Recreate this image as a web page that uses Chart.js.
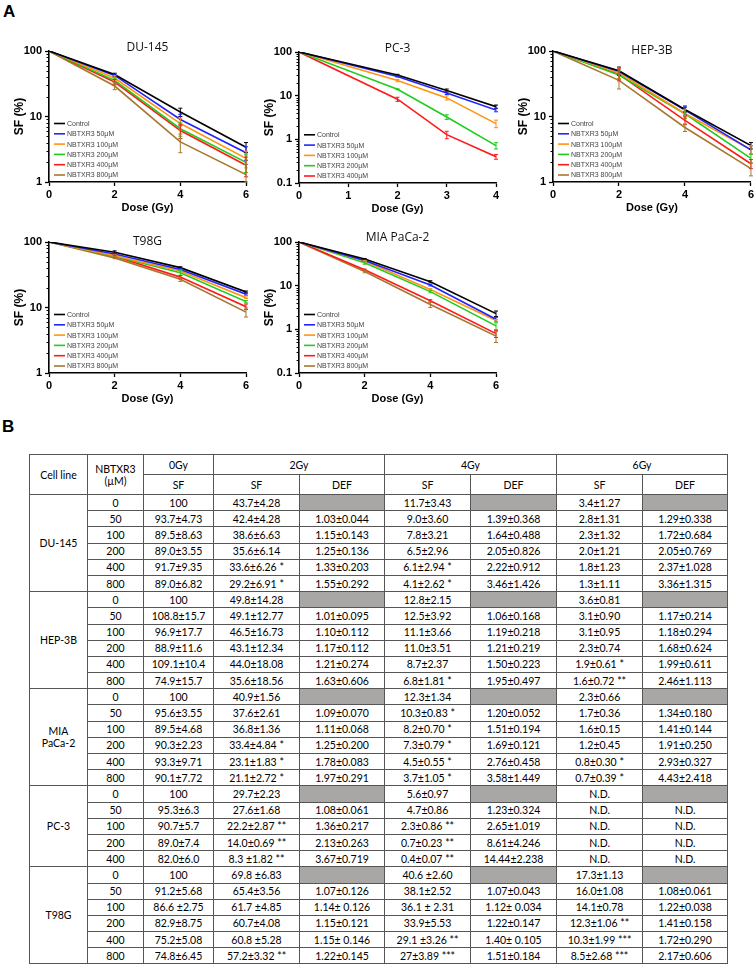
<!DOCTYPE html>
<html><head><meta charset="utf-8">
<script src="https://cdn.jsdelivr.net/npm/chart.js@4.4.1/dist/chart.umd.min.js"></script>
<style>
body{margin:0;width:756px;height:965px;background:#fff;position:relative;overflow:hidden;font-family:"Liberation Sans",Arial,sans-serif}
.lbl{position:absolute;font:bold 17px "Liberation Sans",Arial,sans-serif;line-height:17px;color:#000}
canvas{position:absolute}
table{position:absolute;left:29px;top:454px;border-collapse:collapse;table-layout:fixed;width:698px;font:10.5px Lato,"Open Sans",sans-serif;color:#000;border:1.5px solid #222}
td{border:1px solid #555;text-align:center;padding:0;white-space:nowrap;line-height:12px}
tr.h td{height:19px}
tr.d td{height:15.2px}
td.g{background:#a9a6a6}
td.grp{border-top:1.5px solid #222}
</style>
</head><body>
<div class="lbl" style="left:3px;top:3px">A</div>
<div class="lbl" style="left:2px;top:418px">B</div>
<canvas id="c1" width="252" height="190" style="left:0;top:30px"></canvas>
<canvas id="c2" width="252" height="190" style="left:250px;top:31px"></canvas>
<canvas id="c3" width="252" height="190" style="left:504px;top:30px"></canvas>
<canvas id="c4" width="252" height="190" style="left:0;top:221px"></canvas>
<canvas id="c5" width="252" height="190" style="left:250px;top:221px"></canvas>
<table id="tbl"></table>
<script>
// ---------- chart data ----------
const DOSE = [0, 2, 4, 6];
const DOSE_PC3 = [0, 2, 3, 4];
const LABELS6 = ['Control','NBTXR3 50µM','NBTXR3 100µM','NBTXR3 200µM','NBTXR3 400µM','NBTXR3 800µM'];
const LABELS5 = ['Control','NBTXR3 50µM','NBTXR3 100µM','NBTXR3 200µM','NBTXR3 400µM'];
const COLORS = ['#000000','#2323ff','#ff9414','#20cc20','#ff1a1a','#a8772d'];

const DU145_SF  = [[100,43.7,11.7,3.4],[100,42.4,9.0,2.8],[100,38.6,7.8,2.3],[100,35.6,6.5,2.0],[100,33.6,6.1,1.8],[100,29.2,4.1,1.3]];
const DU145_ERR = [[0,2.1,1.7,0.6],[0,2.1,1.8,0.65],[0,3.3,1.6,0.66],[0,3.1,1.5,0.6],[0,3.1,1.5,0.6],[0,3.5,1.3,0.55]];

const PC3_SF  = [[100,29.7,13.2,5.6],[100,27.6,11.5,4.7],[100,22.2,8.9,2.3],[100,14.0,3.25,0.72],[100,8.3,1.28,0.4]];
const PC3_ERR = [[0,1.1,1.0,0.5],[0,0.8,0.9,0.43],[0,1.4,1.0,0.45],[0,0.35,0.4,0.12],[0,0.9,0.25,0.05]];

const HEP3B_SF  = [[100,49.8,12.8,3.6],[100,49.1,12.5,3.1],[100,46.5,11.1,3.1],[100,43.1,11.0,2.3],[100,44.0,8.7,1.9],[100,35.6,6.8,1.6]];
const HEP3B_ERR = [[0,7.1,1.1,0.4],[0,6.4,2.0,0.45],[0,8.4,1.8,0.48],[0,6.2,1.8,0.37],[0,9.0,1.2,0.3],[0,9.3,0.9,0.36]];

const T98G_SF  = [[100,69.8,40.6,17.3],[100,65.4,38.1,16.0],[100,61.7,36.1,14.1],[100,60.7,33.9,12.3],[100,60.8,29.1,10.3],[100,57.2,27,8.5]];
const T98G_ERR = [[0,3.4,1.3,0.56],[0,1.8,1.26,0.54],[0,2.4,1.16,0.39],[0,2.0,2.8,0.53],[0,2.6,1.6,1.0],[0,1.66,1.95,1.34]];

const MIA_SF  = [[100,40.9,12.3,2.3],[100,37.6,10.3,1.7],[100,36.8,8.2,1.6],[100,33.4,7.3,1.2],[100,23.1,4.5,0.8],[100,21.1,3.7,0.7]];
const MIA_ERR = [[0,0.8,0.67,0.33],[0,1.3,0.42,0.18],[0,0.68,0.35,0.08],[0,2.4,0.4,0.22],[0,0.9,0.28,0.15],[0,1.36,0.52,0.2]];

const YTICKS_1 = [1, 10, 100];
const YTICKS_01 = [0.1, 1, 10, 100];

// ---------- table data ----------
const TABLE_HEAD1 = ['Cell line','NBTXR3<br>(µM)','0Gy','2Gy','4Gy','6Gy'];
const TABLE_HEAD2 = ['SF','SF','DEF','SF','DEF','SF','DEF'];
const CONC6 = ['0','50','100','200','400','800'];
const CONC5 = ['0','50','100','200','400'];
const T_DU145 = [
 ['100','43.7±4.28',null,'11.7±3.43',null,'3.4±1.27',null],
 ['93.7±4.73','42.4±4.28','1.03±0.044','9.0±3.60','1.39±0.368','2.8±1.31','1.29±0.338'],
 ['89.5±8.63','38.6±6.63','1.15±0.143','7.8±3.21','1.64±0.488','2.3±1.32','1.72±0.684'],
 ['89.0±3.55','35.6±6.14','1.25±0.136','6.5±2.96','2.05±0.826','2.0±1.21','2.05±0.769'],
 ['91.7±9.35','33.6±6.26 *','1.33±0.203','6.1±2.94 *','2.22±0.912','1.8±1.23','2.37±1.028'],
 ['89.0±6.82','29.2±6.91 *','1.55±0.292','4.1±2.62 *','3.46±1.426','1.3±1.11','3.36±1.315']];
const T_HEP3B = [
 ['100','49.8±14.28',null,'12.8±2.15',null,'3.6±0.81',null],
 ['108.8±15.7','49.1±12.77','1.01±0.095','12.5±3.92','1.06±0.168','3.1±0.90','1.17±0.214'],
 ['96.9±17.7','46.5±16.73','1.10±0.112','11.1±3.66','1.19±0.218','3.1±0.95','1.18±0.294'],
 ['88.9±11.6','43.1±12.34','1.17±0.112','11.0±3.51','1.21±0.219','2.3±0.74','1.68±0.624'],
 ['109.1±10.4','44.0±18.08','1.21±0.274','8.7±2.37','1.50±0.223','1.9±0.61 *','1.99±0.611'],
 ['74.9±15.7','35.6±18.56','1.63±0.606','6.8±1.81 *','1.95±0.497','1.6±0.72 **','2.46±1.113']];
const T_MIA = [
 ['100','40.9±1.56',null,'12.3±1.34',null,'2.3±0.66',null],
 ['95.6±3.55','37.6±2.61','1.09±0.070','10.3±0.83 *','1.20±0.052','1.7±0.36','1.34±0.180'],
 ['89.5±4.68','36.8±1.36','1.11±0.068','8.2±0.70 *','1.51±0.194','1.6±0.15','1.41±0.144'],
 ['90.3±2.23','33.4±4.84 *','1.25±0.200','7.3±0.79 *','1.69±0.121','1.2±0.45','1.91±0.250'],
 ['93.3±9.71','23.1±1.83 *','1.78±0.083','4.5±0.55 *','2.76±0.458','0.8±0.30 *','2.93±0.327'],
 ['90.1±7.72','21.1±2.72 *','1.97±0.291','3.7±1.05 *','3.58±1.449','0.7±0.39 *','4.43±2.418']];
const T_PC3 = [
 ['100','29.7±2.23',null,'5.6±0.97',null,'N.D.',null],
 ['95.3±6.3','27.6±1.68','1.08±0.061','4.7±0.86','1.23±0.324','N.D.','N.D.'],
 ['90.7±5.7','22.2±2.87 **','1.36±0.217','2.3±0.86 **','2.65±1.019','N.D.','N.D.'],
 ['89.0±7.4','14.0±0.69 **','2.13±0.263','0.7±0.23 **','8.61±4.246','N.D.','N.D.'],
 ['82.0±6.0','8.3 ±1.82 **','3.67±0.719','0.4±0.07 **','14.44±2.238','N.D.','N.D.']];
const T_T98G = [
 ['100','69.8 ±6.83',null,'40.6 ±2.60',null,'17.3±1.13',null],
 ['91.2±5.68','65.4±3.56','1.07±0.126','38.1±2.52','1.07±0.043','16.0±1.08','1.08±0.061'],
 ['86.6 ±2.75','61.7 ±4.85','1.14± 0.126','36.1 ± 2.31','1.12± 0.034','14.1±0.78','1.22±0.038'],
 ['82.9±8.75','60.7±4.08','1.15±0.121','33.9±5.53','1.22±0.147','12.3±1.06 **','1.41±0.158'],
 ['75.2±5.08','60.8 ±5.28','1.15± 0.146','29.1 ±3.26 **','1.40± 0.105','10.3±1.99 ***','1.72±0.290'],
 ['74.8±6.45','57.2±3.32 **','1.22±0.145','27±3.89 ***','1.51±0.184','8.5±2.68 ***','2.17±0.606']];
const TABLE_GROUPS = [
 {name:'DU-145', conc:CONC6, rows:T_DU145},
 {name:'HEP-3B', conc:CONC6, rows:T_HEP3B},
 {name:'MIA<br>PaCa-2', conc:CONC6, rows:T_MIA},
 {name:'PC-3', conc:CONC5, rows:T_PC3},
 {name:'T98G', conc:CONC6, rows:T_T98G}];
const COL_W = [58,56,70,86,85,86,86,86,85];

// ---------- build table ----------
(function(){
  let h = '<colgroup>' + COL_W.map(w=>`<col style="width:${w}px">`).join('') + '</colgroup>';
  h += `<tr class="h"><td rowspan="2">${TABLE_HEAD1[0]}</td><td rowspan="2">${TABLE_HEAD1[1]}</td><td>${TABLE_HEAD1[2]}</td><td colspan="2">${TABLE_HEAD1[3]}</td><td colspan="2">${TABLE_HEAD1[4]}</td><td colspan="2">${TABLE_HEAD1[5]}</td></tr>`;
  h += '<tr class="h">' + TABLE_HEAD2.map(t=>`<td>${t}</td>`).join('') + '</tr>';
  TABLE_GROUPS.forEach(g=>{
    g.rows.forEach((r,i)=>{
      const cls = i===0 ? ' grp' : '';
      h += '<tr class="d">';
      if(i===0) h += `<td class="grp" rowspan="${g.rows.length}">${g.name}</td>`;
      h += `<td class="${cls}">${g.conc[i]}</td>`;
      r.forEach(c=>{ h += c===null ? `<td class="g${cls}"></td>` : `<td class="${cls}">${c}</td>`; });
      h += '</tr>';
    });
  });
  document.getElementById('tbl').innerHTML = h;
})();

// ---------- charts ----------
const deco = {
  id:'deco',
  afterDatasetsDraw(chart){
    const ctx = chart.ctx, y = chart.scales.y, x = chart.scales.x;
    chart.data.datasets.forEach(ds=>{
      ctx.save(); ctx.strokeStyle = ds.borderColor; ctx.lineWidth = 1;
      ds.data.forEach((p,j)=>{
        const e = ds.err[j]; if(!e) return;
        const px = x.getPixelForValue(p.x);
        const lo = Math.max(p.y - e, y.min), hi = p.y + e;
        const y1 = y.getPixelForValue(lo), y2 = y.getPixelForValue(hi);
        ctx.beginPath();
        ctx.moveTo(px, y1); ctx.lineTo(px, y2);
        ctx.moveTo(px-2, y1); ctx.lineTo(px+2, y1);
        ctx.moveTo(px-2, y2); ctx.lineTo(px+2, y2);
        ctx.stroke();
      });
      ctx.restore();
    });
  },
  afterDraw(chart, args, opts){
    const ctx = chart.ctx, a = chart.chartArea, y = chart.scales.y;
    ctx.save();
    // minor ticks on log axis
    ctx.strokeStyle = '#000'; ctx.lineWidth = 1;
    for(let d = y.min; d < y.max; d *= 10){
      for(let k = 2; k <= 9; k++){
        const py = Math.round(y.getPixelForValue(k*d)) + 0.5;
        ctx.beginPath(); ctx.moveTo(a.left-2.5, py); ctx.lineTo(a.left, py); ctx.stroke();
      }
    }
    // chart title
    ctx.fillStyle = '#111';
    ctx.font = '12px "Open Sans", sans-serif';
    ctx.textAlign = 'center'; ctx.textBaseline = 'middle';
    ctx.fillText(opts.title, (a.left+a.right)/2, a.top + opts.titleDy);
    // axis titles
    ctx.fillStyle = '#000';
    ctx.font = 'bold 11px "Liberation Sans", Arial, sans-serif';
    ctx.fillText('Dose (Gy)', (a.left+a.right)/2, a.bottom + 25.5);
    ctx.save();
    ctx.translate(a.left - 29, (a.top+a.bottom)/2);
    ctx.rotate(-Math.PI/2);
    ctx.font = 'bold 12px "Liberation Sans", Arial, sans-serif';
    ctx.fillText('SF (%)', 0, 0);
    ctx.restore();
    // legend
    const n = chart.data.datasets.length;
    ctx.font = '7px "Liberation Sans", Arial, sans-serif';
    ctx.textAlign = 'left';
    chart.data.datasets.forEach((ds,i)=>{
      const ry = a.bottom - 7 - (n-1-i)*10.3;
      ctx.strokeStyle = ds.borderColor; ctx.lineWidth = 1.6;
      ctx.beginPath(); ctx.moveTo(a.left+5, ry); ctx.lineTo(a.left+16, ry); ctx.stroke();
      ctx.fillStyle = '#444';
      ctx.fillText(ds.label, a.left+18, ry+0.5);
    });
    ctx.restore();
  }
};

function makeChart(id, cfg){
  const datasets = cfg.sf.map((vals,i)=>({
    label: cfg.labels[i], borderColor: COLORS[i], backgroundColor: COLORS[i],
    data: vals.map((v,j)=>({x: cfg.dose[j], y: v})),
    err: cfg.err[i], borderWidth: 1.6, pointRadius: 0, tension: 0, fill: false
  }));
  const tickFont = {family:'"Liberation Sans", Arial, sans-serif', size:11, weight:'bold'};
  new Chart(document.getElementById(id), {
    type:'line',
    data:{datasets},
    options:{
      responsive:false, animation:false, events:[],
      layout:{padding:{left:9, right:cfg.padRight, top:21, bottom:0}},
      plugins:{legend:{display:false}, tooltip:{enabled:false}, deco:{title:cfg.title, titleDy:cfg.titleDy}},
      scales:{
        x:{type:'linear', min:0, max:cfg.xmax,
           ticks:{stepSize:cfg.step, font:tickFont, color:'#000', padding:2, maxRotation:0, autoSkip:false},
           grid:{drawOnChartArea:false, tickLength:4, tickColor:'#000', tickWidth:1.3},
           border:{color:'#000', width:1.6},
           afterFit:s=>{s.height = 38;}},
        y:{type:'logarithmic', min:cfg.ymin, max:100,
           afterBuildTicks:s=>{s.ticks = cfg.yticks.map(v=>({value:v}));},
           ticks:{font:tickFont, color:'#000', padding:3, callback:v=>String(v), autoSkip:false},
           grid:{drawOnChartArea:false, tickLength:4, tickColor:'#000', tickWidth:1.3},
           border:{color:'#000', width:1.6},
           afterFit:s=>{s.width = 40;}}
      }
    },
    plugins:[deco]
  });
}

makeChart('c1',{title:'DU-145', titleDy:-3, dose:DOSE, sf:DU145_SF, err:DU145_ERR, labels:LABELS6, xmax:6, step:2, ymin:1, yticks:YTICKS_1, padRight:6});
makeChart('c2',{title:'PC-3', titleDy:-3.5, dose:DOSE_PC3, sf:PC3_SF, err:PC3_ERR, labels:LABELS5, xmax:4, step:1, ymin:0.1, yticks:YTICKS_01, padRight:6});
makeChart('c3',{title:'HEP-3B', titleDy:-0.5, dose:DOSE, sf:HEP3B_SF, err:HEP3B_ERR, labels:LABELS6, xmax:6, step:2, ymin:1, yticks:YTICKS_1, padRight:5});
makeChart('c4',{title:'T98G', titleDy:-0.5, dose:DOSE, sf:T98G_SF, err:T98G_ERR, labels:LABELS6, xmax:6, step:2, ymin:1, yticks:YTICKS_1, padRight:6});
makeChart('c5',{title:'MIA PaCa-2', titleDy:-4, dose:DOSE, sf:MIA_SF, err:MIA_ERR, labels:LABELS6, xmax:6, step:2, ymin:0.1, yticks:YTICKS_01, padRight:6});
</script>
</body></html>
